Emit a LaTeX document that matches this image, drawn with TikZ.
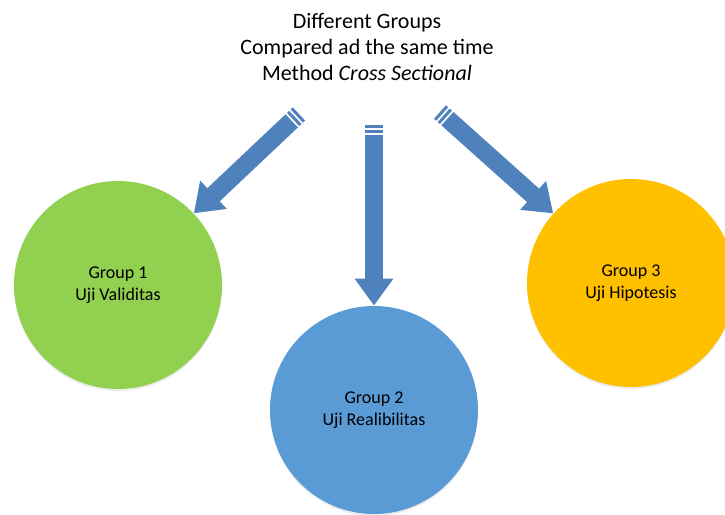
\documentclass[tikz,border=0pt]{standalone}
\usepackage{fontspec}
\setmainfont{Carlito}
\usetikzlibrary{arrows.meta,calc,shadows}
\definecolor{arrowblue}{HTML}{4F81BD}
\definecolor{groupgreen}{HTML}{92D050}
\definecolor{groupblue}{HTML}{5B9BD5}
\definecolor{grouporange}{HTML}{FFC000}
\begin{document}
\begin{tikzpicture}[x=0.5pt, y=-0.5pt,
    group/.style ={circle, minimum size=104pt, inner sep=0pt, align=center,
      font=\fontsize{9}{11}\selectfont,
      drop shadow={opacity=0.15, shadow xshift=0pt, shadow yshift=-1pt}},
    shaft/.style ={line width=9pt, arrowblue}]
   \useasboundingbox (0,0) rectangle (725,515);

   \node[align=center, font=\fontsize{11}{13}\selectfont] (T) at (367,47)
     {Different Groups\\Compared ad the same time\\Method \textit{Cross Sectional}};

   \node[group, fill=groupgreen] (G1) at (118,285) {Group 1\\Uji Validitas};
   \node[group, fill=groupblue] (G2) at (374,410) {Group 2\\Uji Realibilitas};
   \node[group, fill=grouporange] (G3) at (631,283) {Group 3\\Uji Hipotesis};

   \coordinate (L) at (299,114);
   \coordinate (M) at (374,125);
   \coordinate (R) at (440,112);

   \draw[shaft] (L) -- ($(L)!1.5pt!(G1)$);
   \draw[shaft] ($(L)!2.5pt!(G1)$) -- ($(L)!4pt!(G1)$);
   \draw[shaft, -{Triangle[width=18.5pt,length=13.5pt]}] ($(L)!5pt!(G1)$) -- (G1);

   \draw[shaft] (M) -- ($(M)!1.5pt!(G2)$);
   \draw[shaft] ($(M)!2.5pt!(G2)$) -- ($(M)!4pt!(G2)$);
   \draw[shaft, -{Triangle[width=18.5pt,length=13.5pt]}] ($(M)!5pt!(G2)$) -- (G2);

   \draw[shaft] (R) -- ($(R)!1.5pt!(G3)$);
   \draw[shaft] ($(R)!2.5pt!(G3)$) -- ($(R)!4pt!(G3)$);
   \draw[shaft, -{Triangle[width=18.5pt,length=13.5pt]}] ($(R)!5pt!(G3)$) -- (G3);
 \end{tikzpicture}
\end{document}
